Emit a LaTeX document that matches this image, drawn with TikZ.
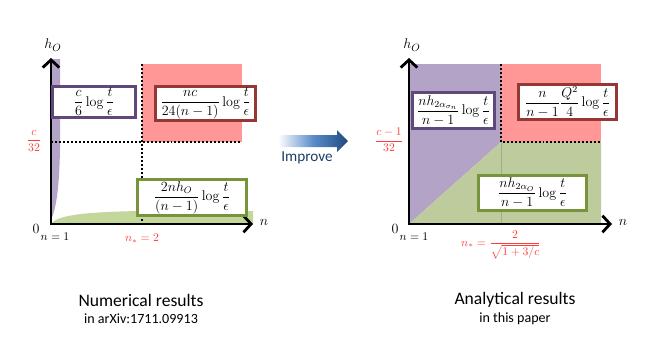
\documentclass[tikz,border=0pt]{standalone}
\usepackage{fontspec}
\usepackage{amsmath}
\usepackage{tikz}
\usetikzlibrary{arrows.meta,positioning}
\newfontfamily\calibri{Carlito}
\definecolor{RegionPurple}{HTML}{B2A3C7}
\definecolor{RegionRed}{HTML}{FF9797}
\definecolor{RegionGreen}{HTML}{C4D79B}
\definecolor{RegionGreen2}{HTML}{BECB9D}
\definecolor{EdgePurple}{HTML}{5F497A}
\definecolor{EdgeRed}{HTML}{953735}
\definecolor{EdgeGreen}{HTML}{77933C}
\definecolor{LabelRed}{HTML}{FF3B3B}
\definecolor{ImproveBlue}{HTML}{1F497D}
\definecolor{ImproveMid}{HTML}{5B8DCB}
\tikzset{
  axisarrow/.style={{Straight Barb[length=2.3mm,width=5mm]}-{Straight Barb[length=2.3mm,width=5mm]}, line width=2.4pt},
  dotline/.style={line width=1.7pt, dash pattern=on 1.7pt off 1.7pt},
  mathbox/.style={draw, fill=white, line width=2.3pt, inner sep=1pt, align=center, font=\fontsize{12}{14}\selectfont},
  purplebox/.style={mathbox, draw=EdgePurple},
  redbox/.style={mathbox, draw=EdgeRed},
  greenbox/.style={mathbox, draw=EdgeGreen},
  axislabel/.style={font=\fontsize{12.5}{14}\selectfont, inner sep=1pt},
  ticklabel/.style={font=\fontsize{10}{12}\selectfont, inner sep=1pt},
  redlabel/.style={ticklabel, text=LabelRed},
  caption/.style={font=\calibri\fontsize{15}{17}\selectfont, inner sep=1pt},
  subcaption/.style={font=\calibri\fontsize{12}{14}\selectfont, inner sep=1pt},
}

\begin{document}
\begin{tikzpicture}[x=0.03cm,y=-0.03cm]
\path[use as bounding box] (0,0) rectangle (667,356);

% axes corners and ends
\coordinate (lO) at (51,224);
\coordinate (lY) at (51,58);
\coordinate (lX) at (253,224);
\coordinate (rO) at (409,224);
\coordinate (rY) at (409,58);
\coordinate (rX) at (612,224);

% numerical regions
\fill[RegionPurple] (51,59) -- (60,59) -- (60,150) .. controls (59,192) and (56,208) .. (51,220) -- cycle;
\fill[RegionGreen] (51,224) .. controls (57,215) and (85,212) .. (140,211) -- (253,211) -- (253,224) -- cycle;
\fill[RegionRed] (142,64) rectangle (242,142);
\draw[dotline] (142,64) -- (142,224);
\draw[dotline] (51,142) -- (242,142);

% analytical regions
\fill[RegionPurple] (409,64) -- (501,64) -- (501,142) -- (409,224) -- cycle;
\fill[RegionGreen2] (409,224) -- (501,142) -- (601,142) -- (601,224) -- cycle;
\fill[RegionRed] (501,64) rectangle (601,142);
\draw[RegionGreen2!85!black, line width=0.3pt] (501,142) -- (501,224);
\draw[dotline] (501,64) -- (501,142) -- (601,142);

% axes
\draw[axisarrow] (lY) -- (lO) -- (lX);
\draw[axisarrow] (rY) -- (rO) -- (rX);

% numerical boxes
\node[purplebox, minimum width=2.5cm, minimum height=0.93cm] (lpurple) at (94,102) {$\displaystyle\frac{c}{6}\log\frac{t}{\epsilon}$};
\node[redbox, minimum width=3.0cm, minimum height=1.02cm] (lred) at (205.5,103.5) {$\displaystyle\frac{nc}{24(n-1)}\log\frac{t}{\epsilon}$};
\node[greenbox, minimum width=3.27cm, minimum height=1.08cm] (lgreen) at (192,197.5) {$\displaystyle\frac{2nh_O}{(n-1)}\log\frac{t}{\epsilon}$};

% analytical boxes
\node[purplebox, minimum width=2.46cm, minimum height=1.08cm] (rpurple) at (453.5,110.5) {$\displaystyle\frac{nh_{2\alpha_{\sigma_n}}}{n-1}\log\frac{t}{\epsilon}$};
\node[redbox, minimum width=2.94cm, minimum height=1.05cm] (rred) at (567.5,102) {$\displaystyle\frac{n}{n-1}\frac{Q^2}{4}\log\frac{t}{\epsilon}$};
\node[greenbox, minimum width=3.24cm, minimum height=1.05cm] (rgreen) at (532.5,193) {$\displaystyle\frac{nh_{2\alpha_O}}{n-1}\log\frac{t}{\epsilon}$};

% axis labels
\node[axislabel] (lhO) at (53,45) {$h_O$};
\node[axislabel] (ln) at (264,222) {$n$};
\node[axislabel] (lzero) at (36,229) {$0$};
\node[ticklabel] (lnone) at (55,237) {$n=1$};
\node[redlabel] (lcrit) at (34,141) {$\displaystyle\frac{c}{32}$};
\node[redlabel] (lnstar) at (142,239) {$n_*=2$};
\node[axislabel] (rhO) at (412,45) {$h_O$};
\node[axislabel] (rn) at (623,222) {$n$};
\node[axislabel] (rzero) at (395,229) {$0$};
\node[ticklabel] (rnone) at (414,237) {$n=1$};
\node[redlabel] (rcrit) at (389,140) {$\displaystyle\frac{c-1}{32}$};
\node[redlabel] (rnstar) at (501,245) {$n_*=\dfrac{2}{\sqrt{1+3/c}}$};

% improve arrow
\shade[left color=white, right color=ImproveBlue, middle color=ImproveMid] (278,135) -- (337,135) -- (337,130) -- (348,141) -- (337,152) -- (337,147) -- (278,147) -- cycle;
\node[font=\calibri\fontsize{13}{15}\selectfont, text=ImproveBlue!85!black, inner sep=1pt] (improve) at (307,158) {Improve};

% captions
\node[caption] (numcap) at (141,300) {Numerical results};
\node[subcaption] (numsub) at (141,319) {in arXiv:1711.09913};
\node[caption] (anacap) at (515,300) {Analytical results};
\node[subcaption] (anasub) at (515,319) {in this paper};
\end{tikzpicture}
\end{document}
